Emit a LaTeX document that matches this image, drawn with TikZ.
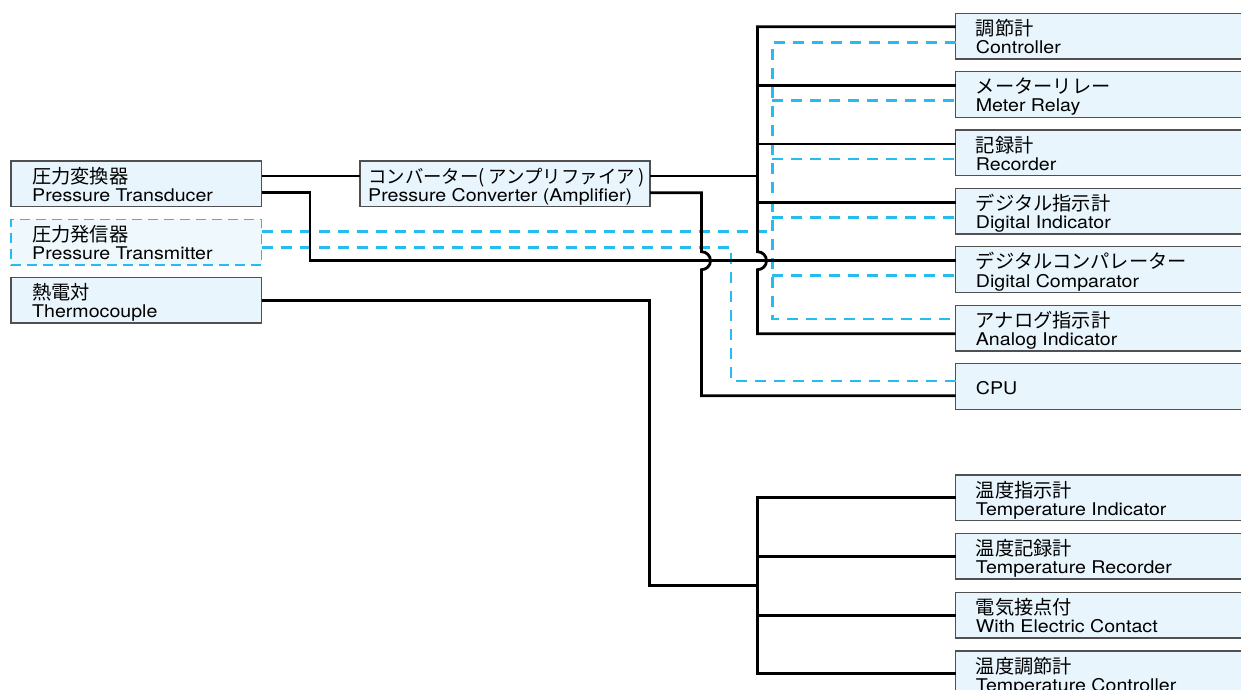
\documentclass[tikz,border=0pt]{standalone}
\usepackage{graphicx}
\usepackage{fontspec}
\setmainfont{TeX Gyre Heros}[FakeStretch=1.12]
\newfontfamily\jp{Noto Sans CJK JP}[Scale=1.1]
\usetikzlibrary{calc}
\definecolor{boxfill}{RGB}{232,245,253}
\definecolor{boxfillb}{RGB}{238,248,253}
\definecolor{boxline}{RGB}{80,80,80}
\definecolor{sig}{RGB}{38,188,238}
\newcommand\basefs{\fontsize{17.5}{18}\selectfont}
\newcommand\tb[7]{%
  \node[#2] (#1) at (#3,#4) {};
  \node[jt] (#1-j) at ($(#1.north west)+(#5,22)$) {#6};
  \node[et] (#1-e) at ($(#1.north west)+(#5,40.5)$) {#7};
}
\begin{document}
\begin{tikzpicture}[x=1pt,y=-1pt,
  box/.style={draw=boxline,line width=1.3pt,fill=boxfill,anchor=north west,inner sep=0pt,outer sep=0pt,minimum height=45.7},
  rbox/.style={box,minimum width=320},
  lbox/.style={box,minimum width=250.5},
  cbox/.style={box,minimum width=290},
  sbox/.style={box,draw=sig,fill=boxfillb,dash pattern=on 10pt off 6pt,minimum width=250.5},
  jt/.style={anchor=base west,inner sep=0pt,font=\basefs\jp},
  et/.style={anchor=base west,inner sep=0pt,font=\basefs},
  wire/.style={line width=2.8pt,black},
  sigwire/.style={line width=2.7pt,sig,dash pattern=on 11pt off 8pt}
]
\useasboundingbox (0,0) rectangle (1241,690);

% left column
\tb{pt}{lbox}{11}{161}{21}{圧力変換器}{Pressure Transducer}
\tb{ptx}{sbox}{11}{219.3}{21}{圧力発信器}{Pressure Transmitter}
\tb{tc}{lbox}{11}{277.3}{21}{熱電対}{Thermocouple}
% converter
\tb{conv}{cbox}{360}{161}{8}{\resizebox{277pt}{!}{コンバーター( アンプリファイア )}}{Pressure Converter (Amplifier)}
% right column
\tb{ctl}{rbox}{955.7}{13.3}{20}{調節計}{Controller}
\tb{mr}{rbox}{955.7}{71.5}{20}{メーターリレー}{Meter Relay}
\tb{rec}{rbox}{955.7}{130}{20}{記録計}{Recorder}
\tb{di}{rbox}{955.7}{188.3}{20}{デジタル指示計}{Digital Indicator}
\tb{dc}{rbox}{955.7}{246.7}{20}{デジタルコンパレーター}{Digital Comparator}
\tb{ana}{rbox}{955.7}{305.3}{20}{アナログ指示計}{Analog Indicator}
\node[rbox] (cpu) at (955.7,363.7) {};
\node[et] (cpu-e) at ($(cpu.north west)+(20,30.6)$) {CPU};
% temperature column
\tb{ti}{rbox}{955.7}{475}{20}{温度指示計}{Temperature Indicator}
\tb{tr}{rbox}{955.7}{533.3}{20}{温度記録計}{Temperature Recorder}
\tb{ec}{rbox}{955.7}{592.3}{20}{電気接点付}{With Electric Contact}
\tb{tcn}{rbox}{955.7}{651}{20}{温度調節計}{Temperature Controller}

% helper coordinates
\coordinate (bus1) at (757.5,0);
\coordinate (cb) at (772.3,0);
\coordinate (j1) at (310,0);
\coordinate (j2) at (701.5,0);
\coordinate (j3) at (649.5,0);
\coordinate (j4) at (731,0);
\coordinate (bus2) at (757.5,585.7);

\coordinate (ptA) at ($(pt.north east)+(0,15)$);
\coordinate (ptB) at ($(pt.north east)+(0,31.7)$);
\coordinate (convA) at ($(conv.north east)+(0,15)$);
\coordinate (convB) at ($(conv.north east)+(0,31.7)$);
\coordinate (ctlA) at ($(ctl.north west)+(0,13.4)$);
\coordinate (mrA) at ($(mr.north west)+(0,14)$);
\coordinate (recA) at ($(rec.north west)+(0,14)$);
\coordinate (diA) at ($(di.north west)+(0,14)$);
\coordinate (dcA) at ($(dc.north west)+(0,14)$);
\coordinate (anaA) at ($(ana.north west)+(0,28.4)$);
\coordinate (cpuA) at ($(cpu.north west)+(0,32)$);
\coordinate (ptxA) at ($(ptx.north east)+(0,12.4)$);
\coordinate (ptxB) at ($(ptx.north east)+(0,28)$);
\coordinate (ctlS) at ($(ctl.north west)+(0,29)$);
\coordinate (mrS) at ($(mr.north west)+(0,28.7)$);
\coordinate (recS) at ($(rec.north west)+(0,29)$);
\coordinate (diS) at ($(di.north west)+(0,29)$);
\coordinate (dcS) at ($(dc.north west)+(0,29)$);
\coordinate (anaS) at ($(ana.north west)+(0,13.7)$);
\coordinate (cpuS) at ($(cpu.north west)+(0,17.3)$);
\coordinate (hop1) at ($(j2 |- dcA)+(0,-9)$);
\coordinate (hop2) at ($(bus1 |- dcA)+(0,-9)$);

% cyan signal lines
\draw[sigwire] (ptxA) -- (cb |- ptxA);
\draw[sigwire] (ctlS) -| (cb |- anaS) -- (anaS);
\draw[sigwire] (cb |- mrS) -- (mrS);
\draw[sigwire] (cb |- recS) -- (recS);
\draw[sigwire] (cb |- diS) -- (diS);
\draw[sigwire] (cb |- dcS) -- (dcS);
\draw[sigwire] (ptxB) -| (j4 |- cpuS) -- (cpuS);

% black wires
\draw[wire] (ptA) -- (conv.west |- ptA);
\draw[wire] (convA) -- (bus1 |- convA);
\draw[wire] (ctlA) -| (hop2) arc[start angle=-90,end angle=90,radius=9] |- (anaA);
\draw[wire] (bus1 |- mrA) -- (mrA);
\draw[wire] (bus1 |- recA) -- (recA);
\draw[wire] (bus1 |- diA) -- (diA);
\draw[wire] (ptB) -| (j1 |- dcA) -- (dcA);
\draw[wire] (convB) -| (hop1) arc[start angle=-90,end angle=90,radius=9] |- (cpuA);
\draw[wire] (tc.east) -| (j3 |- bus2) -- (bus2);
\draw[wire] (ti.west) -| (bus2 |- tcn.west) -- (tcn.west);
\draw[wire] (bus2 |- tr.west) -- (tr.west);
\draw[wire] (bus2 |- ec.west) -- (ec.west);
\end{tikzpicture}
\end{document}
